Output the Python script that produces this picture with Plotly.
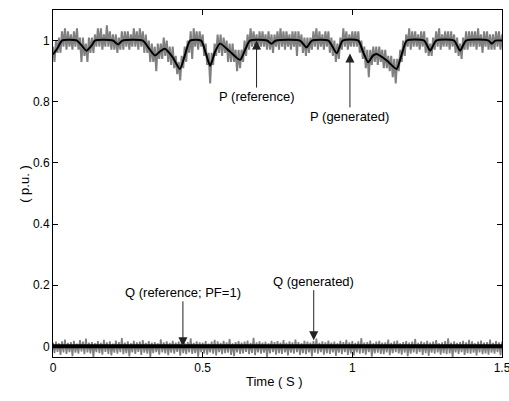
import plotly.graph_objects as go

# ---------------- data ----------------
DT = 0.005  # sampling step of the generated signals (s)

P_ref_t = [0.000, 0.015, 0.030, 0.080, 0.095, 0.112, 0.130, 0.140, 0.200, 0.218, 0.232,
           0.300, 0.320, 0.341, 0.358, 0.374, 0.400, 0.424, 0.440, 0.458, 0.495, 0.510,
           0.525, 0.542, 0.558, 0.590, 0.625, 0.642, 0.658, 0.715, 0.730, 0.745, 0.825,
           0.847, 0.865, 0.920, 0.948, 0.968, 1.020, 1.035, 1.053, 1.068, 1.081, 1.115,
           1.148, 1.165, 1.182, 1.240, 1.260, 1.280, 1.340, 1.360, 1.380, 1.455, 1.466,
           1.478, 1.500]
P_ref_v = [0.955, 0.975, 1.000, 1.000, 0.985, 0.967, 0.985, 1.000, 1.000, 0.987, 1.000,
           1.000, 0.975, 0.951, 0.965, 0.973, 0.945, 0.907, 0.950, 1.000, 1.000, 0.960,
           0.918, 0.965, 0.990, 0.965, 0.937, 0.970, 1.000, 1.000, 0.990, 1.000, 1.000,
           0.978, 1.000, 1.000, 0.959, 1.000, 1.000, 0.965, 0.929, 0.950, 0.956, 0.935,
           0.907, 0.955, 1.000, 1.000, 0.967, 1.000, 1.000, 0.967, 1.000, 1.000, 0.990,
           1.000, 1.000]

P_gen = [
    0.98, 0.93, 1.00, 0.96, 1.01, 0.96, 1.03, 0.98, 1.04, 0.97,
    1.03, 0.98, 1.02, 0.97, 1.03, 0.98, 1.04, 0.97, 1.01, 0.93,
    1.01, 0.95, 0.99, 0.93, 1.01, 0.96, 1.01, 0.96, 1.02, 0.98,
    1.04, 0.98, 1.04, 0.97, 1.02, 0.98, 1.05, 0.98, 1.03, 0.97,
    1.02, 0.97, 1.02, 0.96, 1.01, 0.97, 1.03, 0.97, 1.03, 0.98,
    1.03, 0.97, 1.02, 0.98, 1.04, 0.98, 1.03, 0.97, 1.04, 0.98,
    1.03, 0.96, 1.02, 0.96, 1.00, 0.93, 0.99, 0.93, 0.98, 0.90,
    0.99, 0.94, 0.99, 0.94, 1.01, 0.95, 1.00, 0.93, 0.98, 0.92,
    0.98, 0.91, 0.95, 0.89, 0.93, 0.87, 0.95, 0.91, 0.98, 0.93,
    1.00, 0.96, 1.03, 0.94, 1.04, 0.98, 1.03, 0.97, 1.03, 0.98,
    1.02, 0.95, 0.99, 0.92, 0.96, 0.86, 0.96, 0.92, 0.99, 0.95,
    1.02, 0.96, 1.02, 0.95, 1.01, 0.96, 1.00, 0.93, 0.99, 0.93,
    0.99, 0.93, 0.97, 0.90, 0.97, 0.91, 0.97, 0.93, 1.00, 0.95,
    1.02, 0.97, 1.04, 0.98, 1.03, 0.98, 1.02, 0.97, 1.03, 0.98,
    1.03, 0.98, 1.02, 0.97, 1.03, 0.97, 1.02, 0.96, 1.02, 0.98,
    1.03, 0.97, 1.04, 0.98, 1.03, 0.97, 1.03, 0.98, 1.02, 0.97,
    1.03, 0.98, 1.03, 0.95, 1.03, 0.98, 1.02, 0.96, 1.01, 0.95,
    1.01, 0.96, 1.01, 0.97, 1.03, 0.98, 1.04, 0.97, 1.03, 0.98,
    1.02, 0.97, 1.03, 0.98, 1.03, 0.96, 1.01, 0.95, 1.00, 0.93,
    0.99, 0.94, 1.01, 0.97, 1.04, 0.98, 1.03, 0.97, 1.02, 0.98,
    1.03, 0.98, 1.03, 0.98, 1.03, 0.96, 1.00, 0.94, 0.98, 0.91,
    0.97, 0.88, 0.97, 0.92, 0.98, 0.93, 0.98, 0.92, 0.98, 0.93,
    0.97, 0.91, 0.97, 0.91, 0.95, 0.90, 0.95, 0.88, 0.94, 0.86,
    0.94, 0.90, 0.97, 0.93, 1.00, 0.95, 1.02, 0.98, 1.04, 0.97,
    1.03, 0.98, 1.03, 0.98, 1.02, 0.97, 1.03, 0.98, 1.03, 0.96,
    1.01, 0.95, 0.99, 0.95, 1.01, 0.97, 1.03, 0.98, 1.04, 0.97,
    1.02, 0.98, 1.03, 0.98, 1.03, 0.97, 1.03, 0.98, 1.02, 0.96,
    1.01, 0.95, 0.99, 0.94, 1.01, 0.97, 1.03, 0.97, 1.03, 0.98,
    1.03, 0.98, 1.03, 0.97, 1.04, 0.98, 1.02, 0.96, 1.03, 0.98,
    1.03, 0.97, 1.02, 0.97, 1.02, 0.97, 1.03, 0.98, 1.03, 0.97,
    1.02,
]

Q_ref_t = [0.0, 1.5]
Q_ref_v = [0.0, 0.0]

Q_gen = [
    0.012, -0.022, 0.015, -0.018, 0.010, -0.028, 0.016, -0.020, 0.022, -0.025,
    0.011, -0.019, 0.014, -0.032, 0.018, -0.021, 0.009, -0.024, 0.020, -0.017,
    0.015, -0.026, 0.025, -0.020, 0.012, -0.023, 0.014, -0.035, 0.010, -0.019,
    0.017, -0.022, 0.011, -0.027, 0.021, -0.018, 0.013, -0.025, 0.016, -0.030,
    0.009, -0.021, 0.019, -0.024, 0.014, -0.019, 0.027, -0.026, 0.012, -0.022,
    0.016, -0.033, 0.010, -0.020, 0.018, -0.025, 0.013, -0.018, 0.015, -0.028,
    0.020, -0.021, 0.011, -0.024, 0.017, -0.036, 0.012, -0.022, 0.014, -0.019,
    0.010, -0.027, 0.023, -0.020, 0.013, -0.023, 0.016, -0.029, 0.011, -0.021,
    0.018, -0.024, 0.012, -0.018, 0.015, -0.031, 0.019, -0.022, 0.010, -0.026,
    0.014, -0.020, 0.026, -0.025, 0.011, -0.022, 0.016, -0.034, 0.013, -0.019,
    0.012, -0.023, 0.017, -0.027, 0.009, -0.020, 0.015, -0.024, 0.021, -0.030,
    0.016, -0.019, 0.011, -0.026, 0.018, -0.022, 0.013, -0.021, 0.024, -0.028,
    0.010, -0.032, 0.014, -0.020, 0.017, -0.025, 0.012, -0.023, 0.015, -0.018,
    0.019, -0.026, 0.011, -0.022, 0.028, -0.029, 0.013, -0.020, 0.016, -0.024,
    0.012, -0.021, 0.015, -0.035, 0.010, -0.023, 0.018, -0.019, 0.014, -0.027,
    0.017, -0.022, 0.012, -0.025, 0.020, -0.020, 0.011, -0.030, 0.016, -0.021,
    0.013, -0.024, 0.022, -0.019, 0.014, -0.028, 0.010, -0.022, 0.018, -0.026,
    0.015, -0.020, 0.012, -0.033, 0.017, -0.021, 0.025, -0.024, 0.011, -0.019,
    0.016, -0.027, 0.013, -0.022, 0.019, -0.025, 0.012, -0.020, 0.015, -0.031,
    0.010, -0.021, 0.018, -0.026, 0.014, -0.019, 0.021, -0.028, 0.013, -0.023,
    0.017, -0.030, 0.011, -0.020, 0.016, -0.024, 0.027, -0.022, 0.012, -0.027,
    0.014, -0.019, 0.019, -0.034, 0.010, -0.023, 0.015, -0.021, 0.018, -0.025,
    0.012, -0.026, 0.013, -0.020, 0.022, -0.029, 0.011, -0.022, 0.016, -0.019,
    0.019, -0.023, 0.010, -0.027, 0.014, -0.021, 0.017, -0.032, 0.012, -0.024,
    0.015, -0.020, 0.024, -0.025, 0.011, -0.019, 0.016, -0.028, 0.013, -0.022,
    0.018, -0.031, 0.012, -0.021, 0.015, -0.024, 0.020, -0.020, 0.010, -0.027,
    0.013, -0.022, 0.017, -0.026, 0.026, -0.023, 0.012, -0.035, 0.016, -0.020,
    0.011, -0.025, 0.014, -0.019, 0.018, -0.028, 0.013, -0.022, 0.021, -0.024,
    0.016, -0.021, 0.010, -0.030, 0.015, -0.020, 0.019, -0.026, 0.012, -0.023,
    0.014, -0.027, 0.022, -0.021, 0.011, -0.024, 0.017, -0.019, 0.013, -0.029,
    0.015,
]

x_ticks = [0, 0.5, 1, 1.5]
x_tick_labels = ["0", "0.5", "1", "1.5"]
y_ticks = [0, 0.2, 0.4, 0.6, 0.8, 1.0]
y_tick_labels = ["0", "0.2", "0.4", "0.6", "0.8", "1"]

# annotation targets: (text, x, y, ax, ay)
labels = [
    ("P (reference)", 0.680, 1.000, 0, 56),
    ("P (generated)", 0.992, 0.958, 0, 63),
    ("Q (reference; PF=1)", 0.434, 0.000, 0, -54),
    ("Q (generated)", 0.871, 0.020, 0, -59),
]

# ---------------- figure ----------------
t_gen_P = [i * DT for i in range(len(P_gen))]
t_gen_Q = [i * DT for i in range(len(Q_gen))]

GRAY = "#808080"
FONT = "Arial, Liberation Sans, Helvetica, sans-serif"

fig = go.Figure()
fig.add_trace(go.Scatter(x=t_gen_P, y=P_gen, mode="lines",
                         line=dict(color=GRAY, width=2), showlegend=False, hoverinfo="skip"))
fig.add_trace(go.Scatter(x=P_ref_t, y=P_ref_v, mode="lines",
                         line=dict(color="black", width=2, shape="spline", smoothing=0.6),
                         showlegend=False, hoverinfo="skip"))
fig.add_trace(go.Scatter(x=t_gen_Q, y=Q_gen, mode="lines",
                         line=dict(color=GRAY, width=1.7), showlegend=False, hoverinfo="skip"))
fig.add_trace(go.Scatter(x=Q_ref_t, y=Q_ref_v, mode="lines",
                         line=dict(color="black", width=4), showlegend=False, hoverinfo="skip"))

for text, x, y, ax, ay in labels:
    fig.add_annotation(x=x, y=y, xref="x", yref="y", text=text, showarrow=True,
                       ax=ax, ay=ay, arrowhead=2, arrowsize=1.8, arrowwidth=1,
                       arrowcolor="#222222", font=dict(size=13, color="black", family=FONT))

fig.add_annotation(text="( p.u. )", xref="paper", yref="paper", x=-0.085, y=0.5,
                   textangle=-90, showarrow=False, font=dict(size=13, color="black", family=FONT))
fig.add_annotation(text="Time ( S )", xref="paper", yref="paper", x=0.494, y=-0.098,
                   showarrow=False, font=dict(size=13, color="black", family=FONT))

axis_common = dict(showline=True, linecolor="black", linewidth=1, mirror="ticks",
                   ticks="inside", ticklen=5, tickcolor="black", showgrid=False,
                   zeroline=False, automargin=False, ticklabeloverflow="allow",
                   tickfont=dict(size=12, color="black", family=FONT))

fig.update_xaxes(range=[0, 1.5], tickvals=x_ticks, ticktext=x_tick_labels, **axis_common)
fig.update_yaxes(range=[-0.035, 1.1], tickvals=y_ticks, ticktext=y_tick_labels, **axis_common)

fig.update_layout(width=509, height=401, margin=dict(l=53, r=7, t=10, b=44, autoexpand=False),
                  plot_bgcolor="white", paper_bgcolor="white",
                  font=dict(family=FONT, size=12, color="black"))

fig.write_html("out.html", config={"displayModeBar": False},
               post_script="document.body.style.margin='0px';document.body.style.overflow='hidden';")
